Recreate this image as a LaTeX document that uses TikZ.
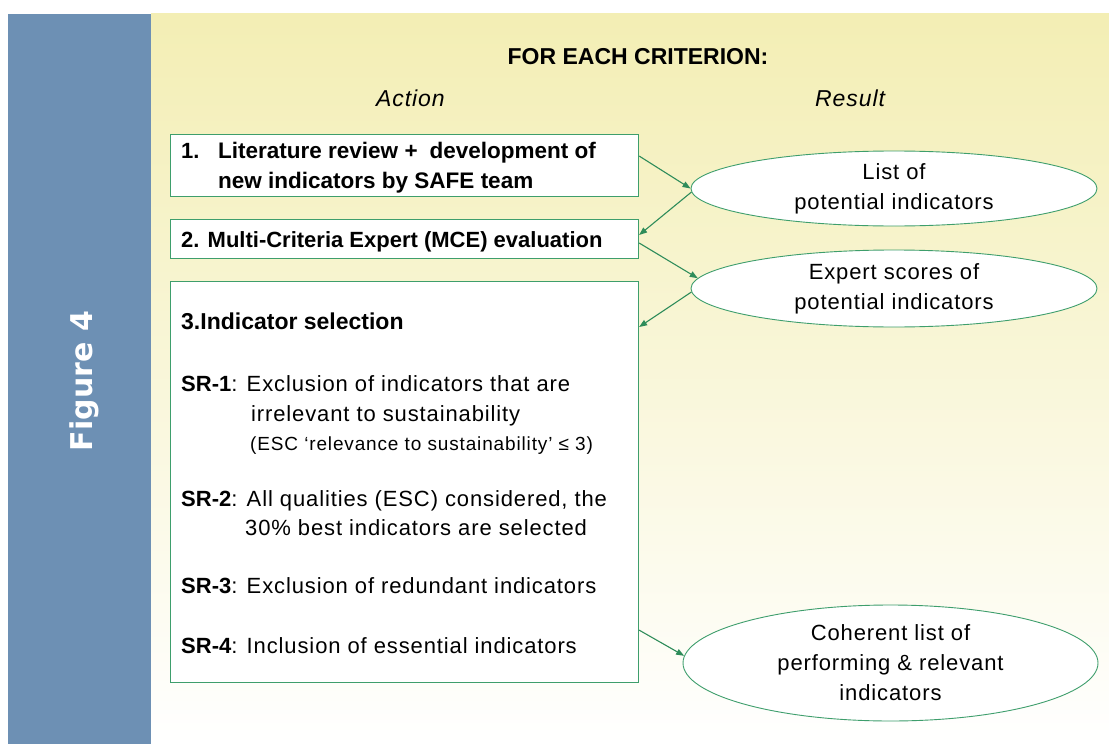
\documentclass[tikz,border=0pt]{standalone}
\usepackage{fontspec}
\setmainfont{Liberation Sans}
\newfontfamily\spaced[LetterSpace=4]{Liberation Sans}
\newfontfamily\smallspaced[LetterSpace=4.5]{Liberation Sans}
\newfontfamily\figfont{DejaVu Sans}
\usetikzlibrary{shapes.geometric,arrows.meta,calc}
\definecolor{panelblue}{RGB}{109,144,180}
\definecolor{paleyellow}{RGB}{243,238,180}
\definecolor{boxgreen}{RGB}{62,158,108}
\definecolor{arrowgreen}{RGB}{46,140,90}
\begin{document}
\begin{tikzpicture}[x=1pt,y=-1pt,
  stepbox/.style={draw=boxgreen,line width=1.1pt,fill=white,rectangle,inner sep=0pt,anchor=north west},
  result/.style={draw=boxgreen,line width=0.9pt,fill=white,ellipse,inner sep=0pt,align=center,
    font=\spaced\fontsize{22}{30}\selectfont},
  flow/.style={draw=arrowgreen,line width=1.1pt,-{Triangle[length=8pt,width=6pt]}},
  bodytext/.style={anchor=base west,inner sep=0pt,font=\spaced\fontsize{22}{30}\selectfont},
  boldtext/.style={anchor=base west,inner sep=0pt,font=\bfseries\fontsize{22}{30}\selectfont},
  headtext/.style={anchor=base west,inner sep=0pt,font=\spaced\itshape\fontsize{23}{28}\selectfont}]
\useasboundingbox (0,0) rectangle (1109,744);
\fill[white] (0,0) rectangle (1109,744);
% background panels
\shade[top color=paleyellow,bottom color=white] (151,13) rectangle (1109,744);
\fill[panelblue] (8,14) rectangle (151,744);
\node[rotate=90,text=white,inner sep=0pt,font=\figfont\bfseries\fontsize{30}{34}\selectfont] (fig) at (84,381) {Figure 4};

% headings
\node[anchor=base,inner sep=0pt,font=\bfseries\fontsize{23}{28}\selectfont] (title) at (638,64) {FOR EACH CRITERION:};
\node[headtext] (action) at (376,106) {Action};
\node[headtext] (result) at (815,106) {Result};

% action boxes
\node[stepbox,minimum width=468pt,minimum height=62pt] (box1) at (170,134) {};
\node[stepbox,minimum width=468pt,minimum height=39pt] (box2) at (170,219) {};
\node[stepbox,minimum width=468pt,minimum height=401pt] (box3) at (170,281) {};

% step texts
\node[boldtext] (t1a) at (181,158) {1.};
\node[boldtext,font=\bfseries\fontsize{22.5}{30}\selectfont] (t1b) at (218,158) {Literature review +\hspace{12pt}development of};
\node[boldtext,font=\bfseries\fontsize{22.5}{30}\selectfont] (t1c) at (218,188) {new indicators by SAFE team};
\node[boldtext] (t2) at (181,247) {2. Multi-Criteria Expert (MCE) evaluation};
\node[boldtext,font=\bfseries\fontsize{23}{30}\selectfont] (t3) at (181,329) {3.Indicator selection};

\node[bodytext] (sr1) at (181,391) {{\normalfont\bfseries SR-1}: Exclusion of indicators that are};
\node[bodytext] (sr1b) at (251,421) {irrelevant to sustainability};
\node[anchor=base west,inner sep=0pt,font=\smallspaced\fontsize{19}{24}\selectfont] (sr1c) at (250,450) {(ESC ‘relevance to sustainability’ ≤ 3)};
\node[bodytext] (sr2) at (181,506) {{\normalfont\bfseries SR-2}: All qualities (ESC) considered, the};
\node[bodytext] (sr2b) at (245,535) {30\% best indicators are selected};
\node[bodytext] (sr3) at (181,593) {{\normalfont\bfseries SR-3}: Exclusion of redundant indicators};
\node[bodytext] (sr4) at (181,653) {{\normalfont\bfseries SR-4}: Inclusion of essential indicators};

% result ellipses
\node[result,minimum width=406pt,minimum height=75pt] (e1) at (894,188.5) {List of\\potential indicators};
\node[result,minimum width=406pt,minimum height=77pt] (e2) at (894,288.5) {Expert scores of\\potential indicators};
\node[result,minimum width=415pt,minimum height=116pt] (e3) at (890.5,663) {Coherent list of\\performing \& relevant\\indicators};

% flow between actions and results
\draw[flow] ($(box1.north east)+(0,22)$) -- (e1.west);
\draw[flow] (e1.181.8) -- ($(box2.north east)+(0,16)$);
\draw[flow] ($(box2.north east)+(0,24)$) -- (e2.177.5);
\draw[flow] (e2.181) -- ($(box3.north east)+(0,46)$);
\draw[flow] ($(box3.south east)+(0,-53)$) -- (e3.178.3);
\end{tikzpicture}
\end{document}
